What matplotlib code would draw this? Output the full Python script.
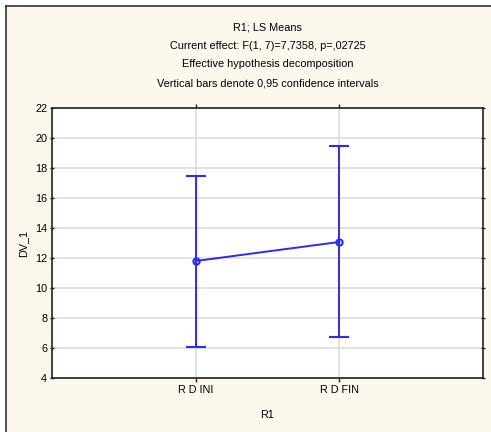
import matplotlib.pyplot as plt
from matplotlib.patches import Rectangle

# LS means with 0.95 confidence intervals
categories = ["R D INI", "R D FIN"]
means = [11.8, 13.07]
ci_low = [6.07, 6.71]
ci_high = [17.5, 19.49]

title_lines = [
    "R1; LS Means",
    "Current effect: F(1, 7)=7,7358, p=,02725",
    "Effective hypothesis decomposition",
    "Vertical bars denote 0,95 confidence intervals",
]

plt.rcParams["font.family"] = ["Liberation Sans", "DejaVu Sans"]
plt.rcParams["font.size"] = 7.8

W, H = 491, 432
fig = plt.figure(figsize=(W / 100, H / 100), dpi=100)
fig.patch.set_facecolor("white")

# cream panel behind the plot
panel = Rectangle((6 / W, 0), 1 - 6 / W, (H - 6) / H, transform=fig.transFigure,
                  facecolor="#fdf8ee", edgecolor="none", zorder=-10)
fig.add_artist(panel)
fig.add_artist(plt.Line2D([6 / W, 1], [(H - 6) / H] * 2, transform=fig.transFigure,
                          color="#333333", lw=1.2, zorder=-9))
fig.add_artist(plt.Line2D([6 / W] * 2, [0, (H - 6) / H], transform=fig.transFigure,
                          color="#333333", lw=1.2, zorder=-9))

# axes box in pixels: left 52, right 483, top 108, bottom 378
ax = fig.add_axes([52 / W, (H - 378) / H, (483 - 52) / W, (378 - 108) / H])
ax.set_facecolor("white")

x = [1, 2]
lower_err = [m - lo for m, lo in zip(means, ci_low)]
upper_err = [hi - m for m, hi in zip(means, ci_high)]
ax.errorbar(x, means, yerr=[lower_err, upper_err], color="#2a2aff", lw=1.4,
            capsize=7, capthick=1.4, marker="o", markersize=4.5,
            markerfacecolor="none", markeredgewidth=1.5, zorder=3)

ax.set_xlim(0, 3)
ax.set_ylim(4, 22)
ax.set_yticks(range(4, 23, 2))
ax.set_xticks(x)
ax.set_xticklabels(categories)
ax.grid(True, color="#dddddd", lw=1.2)
ax.set_axisbelow(True)
for s in ax.spines.values():
    s.set_color("#222222")
    s.set_linewidth(1.2)
ax.tick_params(direction="out", length=3, width=1, colors="#222222", pad=2,
               labelcolor="black", top=True, right=True)
ax.tick_params(axis="y", which="both", right=True, direction="inout")

ax.set_ylabel("DV_1", labelpad=5)
ax.set_xlabel("R1", labelpad=11)

y0 = H - 27
for i, line in enumerate(title_lines):
    fig.text(267.5 / W, (y0 - i * 18.7) / H, line, ha="center", va="center")

fig.savefig("out.png", dpi=100)
